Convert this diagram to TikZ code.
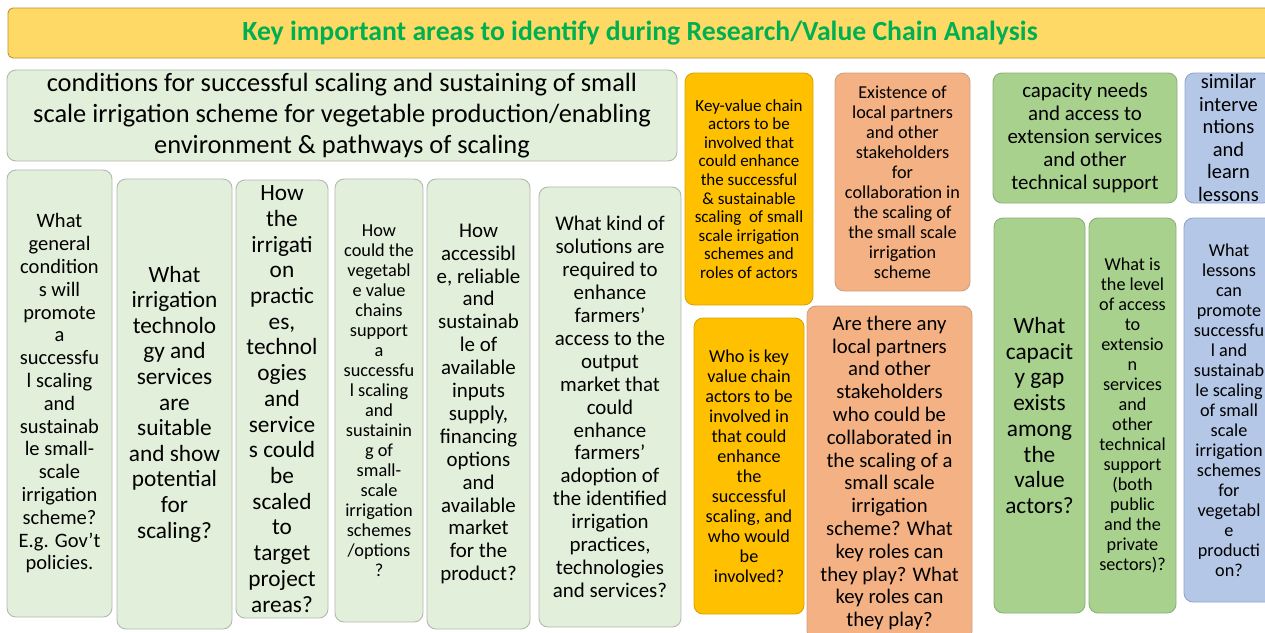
\documentclass[tikz,border=0pt]{standalone}
\usepackage{fontspec}
\setmainfont{Carlito}
\definecolor{titlefill}{HTML}{FFD966}
\definecolor{titledraw}{HTML}{B8962E}
\definecolor{titletext}{HTML}{00B050}
\definecolor{lgfill}{HTML}{E2EFDA}
\definecolor{lgdraw}{HTML}{B4B9B0}
\definecolor{ylfill}{HTML}{FFC000}
\definecolor{yldraw}{HTML}{D9A400}
\definecolor{safill}{HTML}{F4B183}
\definecolor{sadraw}{HTML}{CFA184}
\definecolor{gnfill}{HTML}{A9D18E}
\definecolor{gndraw}{HTML}{8DAF78}
\definecolor{blfill}{HTML}{B4C7E7}
\definecolor{bldraw}{HTML}{8FA5CC}
\newcommand{\fs}[2]{\fontsize{#1pt}{#2pt}\selectfont}
\tikzset{
  card/.style={rounded corners=9pt, line width=0.9pt, inner sep=0pt,
    align=center, text=black},
  lgcard/.style={card, fill=lgfill, draw=lgdraw},
  ylcard/.style={card, fill=ylfill, draw=yldraw},
  sacard/.style={card, fill=safill, draw=sadraw},
  gncard/.style={card, fill=gnfill, draw=gndraw},
  blcard/.style={card, fill=blfill, draw=bldraw},
}
% place a card by its extent: style, name, left, top, right, bottom, text
\newcommand{\card}[7]{%
  \pgfmathsetmacro\cardw{#5-#3}\pgfmathsetmacro\cardh{#6-#4}%
  \pgfmathsetmacro\cardx{(#3+#5)/2}\pgfmathsetmacro\cardy{(#4+#6)/2}%
  \node[#1, minimum width=\cardw pt, minimum height=\cardh pt]
    (#2) at (\cardx,\cardy) {#7};}
\begin{document}
\begin{tikzpicture}[x=1pt, y=-1pt]
\useasboundingbox (0,0) rectangle (1265,632);
\fill[white] (0,0) rectangle (1265,632);
\clip (0,0) rectangle (1265,632);

% banner
\card{card, rounded corners=5pt, fill=titlefill, draw=titledraw, text=titletext, font=\fs{27.7}{30}\bfseries}{title}{8}{8}{1272}{58}
  {Key important areas to identify during Research/Value Chain Analysis}

% enabling environment header
\card{lgcard, font=\fs{26.4}{31}}{head}{7}{70}{677}{161}
  {conditions for successful scaling and sustaining of small\\scale irrigation scheme for vegetable production/enabling\\environment \& pathways of scaling}

% question columns
\card{lgcard, font=\fs{20.5}{22.8}}{q1}{7}{170}{112}{617}
  {What\\general\\condition\\s will\\promote\\a\\successfu\\l scaling\\and\\sustainab\\le small-\\scale\\irrigation\\scheme?\\E.g. Gov’t\\policies.}
\card{lgcard, font=\fs{23.3}{25.6}}{q2}{117}{179}{232}{629}
  {What\\irrigation\\technolo\\gy and\\services\\are\\suitable\\and show\\potential\\for\\scaling?}
\card{lgcard, font=\fs{23.3}{25.7}}{q3}{236}{180}{328}{618}
  {How\\the\\irrigati\\on\\practic\\es,\\technol\\ogies\\and\\service\\s could\\be\\scaled\\to\\target\\project\\areas?}
\card{lgcard, font=\fs{18.3}{20}}{q4}{335}{179}{423}{622}
  {How\\could the\\vegetabl\\e value\\chains\\support\\a\\successfu\\l scaling\\and\\sustainin\\g of\\small-\\scale\\irrigation\\schemes\\/options\\?}
\card{lgcard, font=\fs{20.9}{22.9}}{q5}{427}{179}{530}{629}
  {How\\accessibl\\e, reliable\\and\\sustainab\\le of\\available\\inputs\\supply,\\financing\\options\\and\\available\\market\\for the\\product?}
\card{lgcard, font=\fs{20.9}{22.9}}{q6}{539}{187}{681}{627}
  {What kind of\\solutions are\\required to\\enhance\\farmers’\\access to the\\output\\market that\\could\\enhance\\farmers’\\adoption of\\the identified\\irrigation\\practices,\\technologies\\and services?}

% value chain actors
\card{ylcard, font=\fs{17}{18.6}}{actors}{685}{73}{813}{305}
  {Key-value chain\\actors to be\\involved that\\could enhance\\the successful\\\& sustainable\\scaling\ \ of small\\scale irrigation\\schemes and\\roles of actors}
\card{ylcard, font=\fs{18.2}{20}}{actorsq}{694}{318}{804}{614}
  {Who is key\\value chain\\actors to be\\involved in\\that could\\enhance\\the\\successful\\scaling, and\\who would\\be\\involved?}

% local partners
\card{sacard, font=\fs{18.2}{20}}{partners}{835}{73}{970}{291}
  {Existence of\\local partners\\and other\\stakeholders\\for\\collaboration in\\the scaling of\\the small scale\\irrigation\\scheme}
\card{sacard, font=\fs{20.7}{22.8}}{partnersq}{807}{306}{972}{640}
  {Are there any\\local partners\\and other\\stakeholders\\who could be\\collaborated in\\the scaling of a\\small scale\\irrigation\\scheme? What\\key roles can\\they play? What\\key roles can\\they play?}

% capacity needs
\card{gncard, font=\fs{20.9}{23}}{capacity}{993}{73}{1177}{203}
  {capacity needs\\and access to\\extension services\\and other\\technical support}
\card{gncard, font=\fs{23.3}{25.7}}{capacityq}{994}{218}{1085}{613}
  {What\\capacit\\y gap\\exists\\among\\the\\value\\actors?}
\card{gncard, font=\fs{18.2}{20}}{extensionq}{1089}{218}{1176}{613}
  {What is\\the level\\of access\\to\\extensio\\n\\services\\and\\other\\technical\\support\\(both\\public\\and the\\private\\sectors)?}

% lessons from similar interventions
\card{blcard, font=\fs{20.5}{22.6}}{lessons}{1185}{73}{1272}{203}
  {similar\\interve\\ntions\\and\\learn\\lessons}
\card{blcard, font=\fs{18.2}{20}}{lessonsq}{1184}{218}{1274}{602}
  {What\\lessons\\can\\promote\\successfu\\l and\\sustainab\\le scaling\\of small\\scale\\irrigation\\schemes\\for\\vegetabl\\e\\producti\\on?}
\end{tikzpicture}
\end{document}
